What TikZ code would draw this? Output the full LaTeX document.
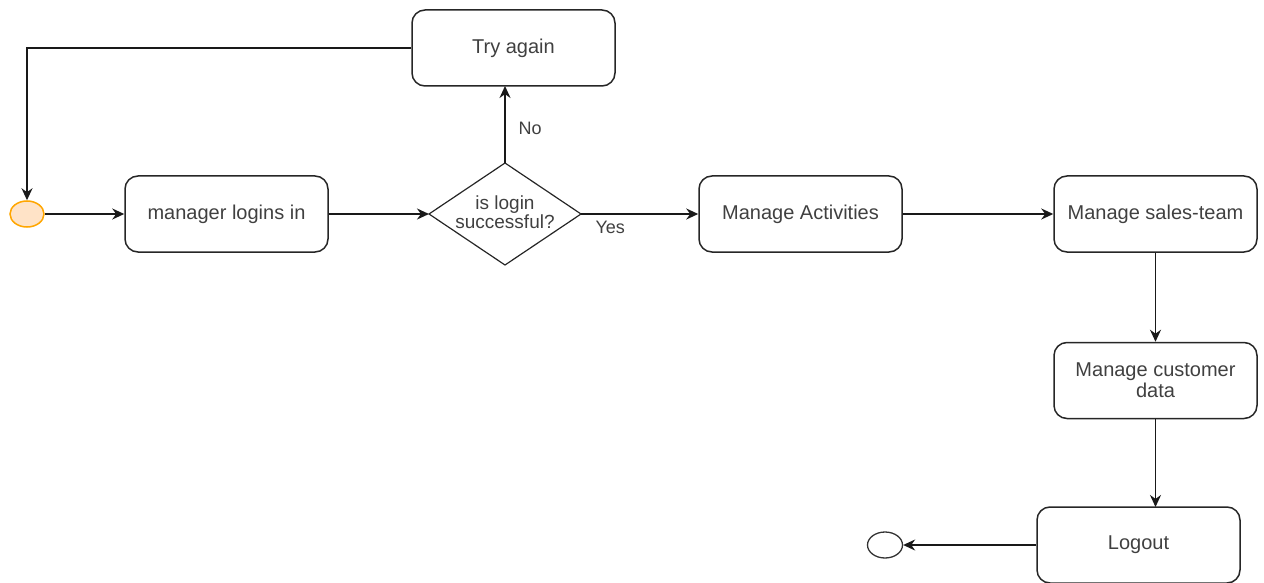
\documentclass[tikz,border=0pt]{standalone}
\usepackage{fontspec}
\setmainfont{Liberation Sans}
\usetikzlibrary{shapes.geometric,arrows.meta}
\begin{document}
\begin{tikzpicture}[x=1pt,y=-1pt,
  every node/.style={font=\fontsize{20}{22}\selectfont, text=black!75},
  act/.style={draw=black!85, line width=1.5pt, rounded corners=13pt, minimum width=203pt, minimum height=76pt, inner sep=0pt, align=center},
  conn/.style={draw=black!90, line width=1.6pt, -{Stealth[length=12pt,width=11pt]}},
  lbl/.style={font=\fontsize{18}{20}\selectfont}
]
\useasboundingbox (0,0) rectangle (1264,583);
\node[draw=orange!70!yellow, fill=orange!22, line width=1.5pt, ellipse, minimum width=34pt, minimum height=26pt, inner sep=0pt] (start) at (27,214) {};
\node[act] (login) at (226.5,214) {manager logins in};
\coordinate (dleft) at (429,214);
\coordinate (dtop) at (505,163);
\coordinate (dright) at (581,214);
\coordinate (dbot) at (505,265);
\draw[black!85, line width=1.2pt] (dleft) -- (dtop) -- (dright) -- (dbot) -- cycle;
\node[align=center, font=\fontsize{19}{19}\selectfont] (dia) at (505,212) {is login\\successful?};
\node[act] (try) at (513.5,48) {Try again};
\node[act] (act) at (800.5,214) {Manage Activities};
\node[act] (sales) at (1155.5,214) {Manage sales-team};
\node[act, font=\fontsize{20}{21}\selectfont] (cust) at (1155.5,380.5) {Manage customer\\data};
\node[act] (logout) at (1138.5,545) {Logout};
\node[draw=black!80, line width=1.3pt, ellipse, minimum width=35pt, minimum height=26pt, inner sep=0pt] (end) at (885,545) {};
\coordinate (tbot) at (505,86);
\coordinate (ltop) at (1155.5,507);
\draw[conn] (start) -- (login);
\draw[conn] (login.east) -- (dleft);
\draw[conn] (dright) -- (act.west);
\draw[conn] (dtop) -- (tbot);
\draw[conn] (try.west) -- (27,48) -- (start.north);
\draw[conn] (act) -- (sales);
\draw[conn] (sales.south) -- (cust.north);
\draw[conn] (cust.south) -- (ltop);
\draw[conn] (logout.west) -- (end.east);
\node[lbl,anchor=west] (no) at (515,128) {No};
\node[lbl,anchor=west] (yes) at (592,227) {Yes};
\end{tikzpicture}
\end{document}
